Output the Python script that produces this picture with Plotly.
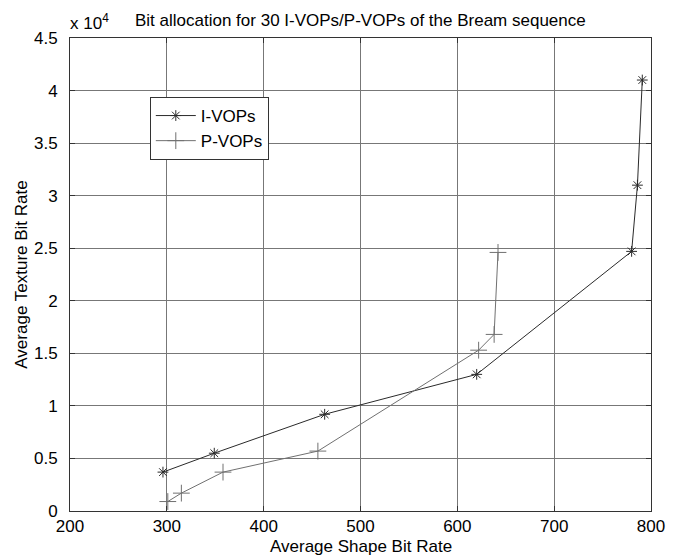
import plotly.graph_objects as go

i_shape = [296, 349, 463, 620, 780, 786, 791]
i_texture = [3700, 5500, 9200, 13000, 24700, 31000, 41000]
p_shape = [301, 315, 358, 456, 622, 638, 642]
p_texture = [900, 1700, 3700, 5700, 15300, 16800, 24600]

y_tickvals = [0, 5000, 10000, 15000, 20000, 25000, 30000, 35000, 40000, 45000]
y_ticktext = ["0", "0.5", "1", "1.5", "2", "2.5", "3", "3.5", "4", "4.5"]
x_tickvals = [200, 300, 400, 500, 600, 700, 800]

title_text = "Bit allocation for 30 I-VOPs/P-VOPs of the Bream sequence"
x_title = "Average Shape Bit Rate"
y_title = "Average Texture Bit Rate"

FONT = "Liberation Sans, Arial, sans-serif"
FS = 17

# page body has an 8px default margin, so the figure is 8px smaller
W, H = 669, 552
ML, MR, MT, MB = 56, 16, 30, 49

fig = go.Figure()
fig.add_trace(go.Scatter(
    x=i_shape, y=i_texture, name="I-VOPs", mode="lines+markers",
    line=dict(color="#2a2a2a", width=1),
    marker=dict(symbol="asterisk-open", size=9, color="#2a2a2a",
                line=dict(color="#2a2a2a", width=1)),
))
fig.add_trace(go.Scatter(
    x=p_shape, y=p_texture, name="P-VOPs", mode="lines+markers",
    line=dict(color="#707070", width=1),
    marker=dict(symbol="cross-thin-open", size=12, color="#707070",
                line=dict(color="#707070", width=1)),
))

axis_common = dict(
    showline=True, linecolor="#333", linewidth=1, mirror="ticks",
    ticks="inside", ticklen=5, tickcolor="#333",
    showgrid=True, gridcolor="#777", gridwidth=1,
    zeroline=False,
    tickfont=dict(family=FONT, size=FS, color="black"),
)

fig.update_layout(
    width=W, height=H,
    margin=dict(l=ML, r=MR, t=MT, b=MB),
    paper_bgcolor="white", plot_bgcolor="white",
    font=dict(family=FONT, size=FS, color="black"),
    xaxis=dict(range=[200, 800], tickvals=x_tickvals, **axis_common),
    yaxis=dict(range=[0, 45000], tickvals=y_tickvals, ticktext=y_ticktext,
               ticklabelstandoff=8,
               title=dict(text=y_title, standoff=2,
                          font=dict(family=FONT, size=FS)),
               **axis_common),
    showlegend=True,
)

plot_w = W - ML - MR
plot_h = H - MT - MB
fig.update_layout(legend=dict(
    x=(146 - 64) / plot_w, y=1 - (97 - 38) / plot_h,
    xanchor="left", yanchor="top",
    bgcolor="white", bordercolor="#333", borderwidth=1,
    font=dict(family=FONT, size=FS, color="black"),
    itemwidth=40, tracegroupgap=0,
))

fig.add_annotation(
    text=x_title, x=0.5, y=0, xref="paper", yref="paper",
    yanchor="top", yshift=-24, showarrow=False,
    font=dict(family=FONT, size=FS, color="black"),
)
fig.add_annotation(
    text=title_text, x=0.5, y=1, xref="paper", yref="paper",
    yanchor="bottom", yshift=6, showarrow=False,
    font=dict(family=FONT, size=FS, color="black"),
)
fig.add_annotation(
    text="x 10<sup>4</sup>", x=0, y=1, xref="paper", yref="paper",
    xanchor="left", yanchor="bottom", yshift=3, xshift=-2, showarrow=False,
    font=dict(family=FONT, size=FS, color="black"),
)

fig.write_html("out.html")
